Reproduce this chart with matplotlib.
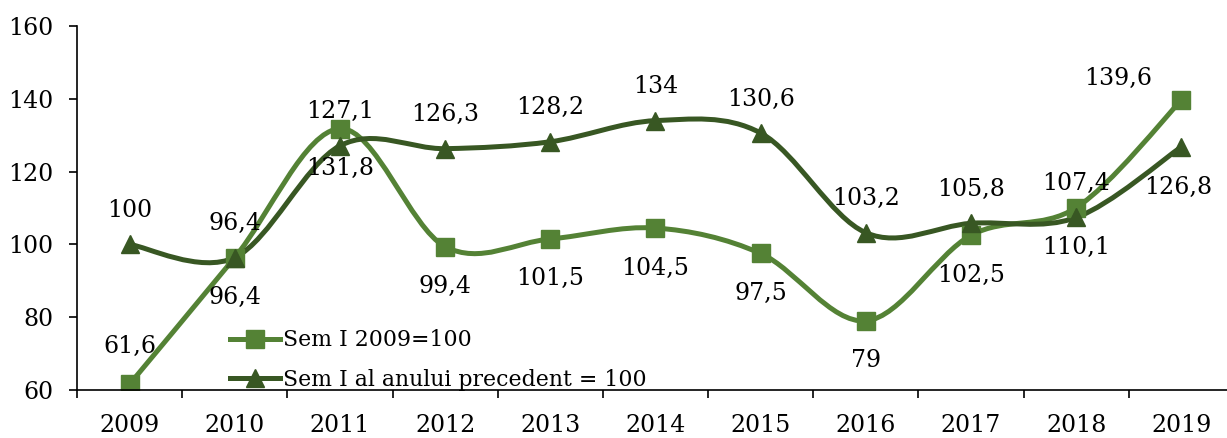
import numpy as np
import matplotlib
matplotlib.use("Agg")
import matplotlib.pyplot as plt
from matplotlib.path import Path
from matplotlib.patches import PathPatch

years = ["2009", "2010", "2011", "2012", "2013", "2014", "2015", "2016", "2017", "2018", "2019"]
sem_2009 = [61.6, 96.4, 131.8, 99.4, 101.5, 104.5, 97.5, 79, 102.5, 110.1, 139.6]
sem_prev = [100, 96.4, 127.1, 126.3, 128.2, 134, 130.6, 103.2, 105.8, 107.4, 126.8]

light = "#548235"
dark = "#385723"

plt.rcParams["font.family"] = ["DejaVu Serif"]
plt.rcParams["font.size"] = 17


def smooth_path(xs, ys):
    # Excel-like smoothed line: Catmull-Rom segments as cubic Bezier curves
    pts = np.column_stack([xs, ys]).astype(float)
    ext = np.vstack([pts[0], pts, pts[-1]])
    verts = [pts[0]]
    codes = [Path.MOVETO]
    for i in range(len(pts) - 1):
        p0, p1, p2, p3 = ext[i], ext[i + 1], ext[i + 2], ext[i + 3]
        verts += [p1 + (p2 - p0) / 6, p2 - (p3 - p1) / 6, p2]
        codes += [Path.CURVE4] * 3
    return Path(verts, codes)


fig = plt.figure(figsize=(12.27, 4.38), dpi=100)
ax = fig.add_axes([77 / 1227, 1 - 390 / 438, 1157 / 1227, 364 / 438])

x = np.arange(len(years))
for vals, col, mk, lab in [(sem_2009, light, "s", "Sem I 2009=100"),
                           (sem_prev, dark, "^", "Sem I al anului precedent = 100")]:
    ax.add_patch(PathPatch(smooth_path(x, vals), facecolor="none", edgecolor=col,
                           lw=3.6, capstyle="round", joinstyle="round"))
    ax.plot(x, vals, linestyle="none", marker=mk, markersize=13.5, color=col)
    ax.plot([], [], color=col, lw=3.6, marker=mk, markersize=13.5, label=lab)

# data labels: series 1 below except first and last, series 2 above except last
for i, v in enumerate(sem_2009):
    dx, dy = 0, -40
    if i == 0:
        dy = 38
    if i == len(sem_2009) - 1:
        dx, dy = -63, 22
    ax.annotate(f"{v:g}".replace(".", ","), (i, v), xytext=(dx, dy), textcoords="offset pixels",
                ha="center", va="center")
for i, v in enumerate(sem_prev):
    dy = 34
    dx = 0
    if i == len(sem_prev) - 1:
        dy = -41
        dx = -3
    ax.annotate(f"{v:g}".replace(".", ","), (i, v), xytext=(dx, dy), textcoords="offset pixels",
                ha="center", va="center")

ax.set_xlim(-0.5, len(years) - 0.5)
ax.set_ylim(60, 160)
ax.set_yticks(range(60, 161, 20))
ax.set_xticks(np.arange(-0.5, len(years), 1))
ax.set_xticklabels([])
ax.set_xticks(x, minor=True)
ax.set_xticklabels(years, minor=True)
ax.tick_params(axis="x", which="major", length=6, width=1.2, direction="out")
ax.tick_params(axis="x", which="minor", length=0, pad=17)
ax.tick_params(axis="y", length=6, width=1.2, pad=11)
for s in ["top", "right"]:
    ax.spines[s].set_visible(False)
for s in ["left", "bottom"]:
    ax.spines[s].set_linewidth(1.2)

ax.legend(loc="center left", bbox_to_anchor=(230 / 1227, 1 - 360 / 438),
          bbox_transform=fig.transFigure, frameon=False, handlelength=2.3,
          handletextpad=0.1, labelspacing=0.8, borderpad=0, borderaxespad=0,
          fontsize=15.8)

fig.savefig("out.png", dpi=100)
